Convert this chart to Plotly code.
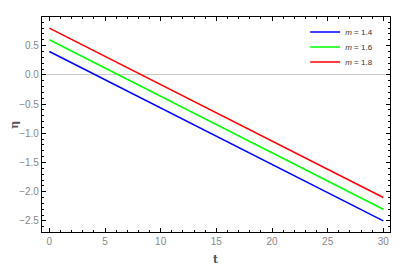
import plotly.graph_objects as go

t_vals = [0, 5, 10, 15, 20, 25, 30]
eta_m14 = [0.40, -0.083, -0.567, -1.05, -1.533, -2.017, -2.50]
eta_m16 = [0.60, 0.117, -0.367, -0.85, -1.333, -1.817, -2.30]
eta_m18 = [0.80, 0.317, -0.167, -0.65, -1.133, -1.617, -2.10]
labels = ["<i>m</i> = 1.4", "<i>m</i> = 1.6", "<i>m</i> = 1.8"]
colors = ["#0000ff", "#00ff00", "#ff0000"]
series = [eta_m14, eta_m16, eta_m18]
legend_ids = ["legend", "legend2", "legend3"]
legend_y = [0.930, 0.860, 0.791]

fig = go.Figure()
for ys, lab, c, lg in zip(series, labels, colors, legend_ids):
    fig.add_trace(go.Scatter(x=t_vals, y=ys, mode="lines", name=lab, legend=lg,
                             line=dict(color=c, width=1.5)))

axis_common = dict(showline=True, linecolor="black", linewidth=1.2, mirror="allticks",
                   ticks="inside", ticklen=4, tickcolor="black",
                   tickfont=dict(family="Liberation Sans", size=10, color="#888888"),
                   showgrid=False, automargin=False)

fig.update_xaxes(range=[-0.66, 30.6], tickvals=[0, 5, 10, 15, 20, 25, 30],
                 minor=dict(ticks="inside", dtick=1, tick0=0, ticklen=2, tickcolor="black"),
                 zeroline=False, **axis_common)
fig.update_yaxes(range=[-2.69, 0.99], tickvals=[-2.5, -2.0, -1.5, -1.0, -0.5, 0.0, 0.5],
                 ticktext=["\u22122.5", "\u22122.0", "\u22121.5", "\u22121.0", "\u22120.5", "0.0", "0.5"],
                 minor=dict(ticks="inside", dtick=0.1, tick0=0, ticklen=2, tickcolor="black"),
                 zeroline=True, zerolinecolor="#cccccc", zerolinewidth=1,
                 **axis_common)

fig.add_annotation(text="<b>t</b>", xref="paper", yref="paper", x=0.5, y=-0.13,
                   xanchor="center", yanchor="middle", showarrow=False,
                   font=dict(family="DejaVu Serif", size=11, color="#555555"))
fig.add_annotation(text="<b>\u03b7</b>", xref="paper", yref="paper", x=-0.078, y=0.498,
                   xanchor="center", yanchor="middle", showarrow=False, textangle=-90,
                   font=dict(family="DejaVu Serif", size=11, color="#555555"))

legend_style = dict(x=0.966, xanchor="right", yanchor="middle",
                    font=dict(family="Liberation Sans", size=8, color="#333333"),
                    bgcolor="rgba(255,255,255,0)", itemwidth=30)

# page body has an 8px default margin; size the figure to fit the window
fig.update_layout(
    width=401, height=259,
    margin=dict(l=34, r=19, t=9, b=35),
    paper_bgcolor="white", plot_bgcolor="white",
    legend=dict(y=legend_y[0], **legend_style),
    legend2=dict(y=legend_y[1], **legend_style),
    legend3=dict(y=legend_y[2], **legend_style),
    showlegend=True,
)

fig.write_html("out.html")
